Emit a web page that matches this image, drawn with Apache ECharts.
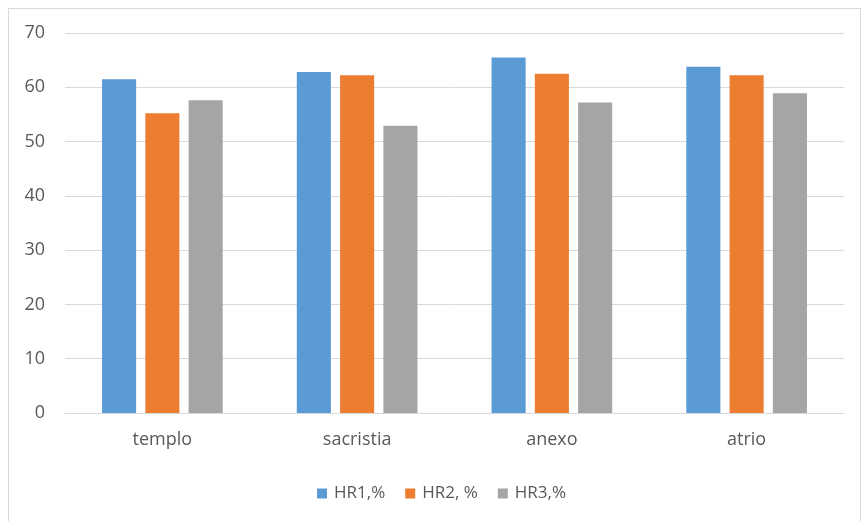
<!DOCTYPE html>
<html>
<head>
<meta charset="utf-8">
<script src="https://cdn.jsdelivr.net/npm/echarts@6/dist/echarts.min.js"></script>
<style>
  html, body { margin: 0; padding: 0; background: #fff; }
  #frame { position: absolute; left: 8px; top: 8px; width: 853px; height: 530px; border: 1px solid #d9d9d9; box-sizing: border-box; }
  #chart { position: absolute; left: 0; top: 0; width: 864px; height: 521px; }
</style>
</head>
<body>
<div id="frame"></div>
<div id="chart"></div>
<script>
const categories = ['templo', 'sacristia', 'anexo', 'atrio'];
const hr1 = [61.5, 62.8, 65.5, 63.8];
const hr2 = [55.2, 62.2, 62.5, 62.2];
const hr3 = [57.6, 52.9, 57.2, 58.9];
const seriesNames = ['HR1,%', 'HR2, %', 'HR3,%'];

const font = '"Open Sans", sans-serif';
const textColor = '#595959';

let myChart = echarts.init(document.getElementById('chart'));
myChart.setOption({
  animation: false,
  color: ['#5b9bd5', '#ed7d31', '#a5a5a5'],
  grid: { left: 65, right: 20, top: 33, bottom: 108, outerBoundsMode: 'none' },
  legend: {
    top: 480,
    left: 312,
    itemWidth: 10,
    itemHeight: 10,
    itemGap: 20,
    icon: 'rect',
    textStyle: { fontFamily: font, fontSize: 17, color: textColor, padding: [0, 0, 0, 2] },
    data: seriesNames
  },
  xAxis: {
    type: 'category',
    data: categories,
    axisLine: { lineStyle: { color: '#d9d9d9', width: 1 } },
    axisTick: { show: false },
    axisLabel: { fontFamily: font, fontSize: 18, color: textColor, margin: 18 }
  },
  yAxis: {
    type: 'value',
    min: 0,
    max: 70,
    interval: 10,
    axisLine: { show: false },
    axisTick: { show: false },
    splitLine: { lineStyle: { color: '#d9d9d9', width: 1 } },
    axisLabel: { fontFamily: font, fontSize: 18, color: textColor, margin: 20 }
  },
  series: [{
    name: seriesNames[0],
    type: 'bar',
    data: hr1,
    barWidth: '17.5%',
    barGap: '27%'
  }, {
    name: seriesNames[1],
    type: 'bar',
    data: hr2,
    barWidth: '17.5%',
    barGap: '27%'
  }, {
    name: seriesNames[2],
    type: 'bar',
    data: hr3,
    barWidth: '17.5%',
    barGap: '27%'
  }]
});

window.addEventListener('resize', function() {
  myChart.resize();
});
</script>
</body>
</html>
